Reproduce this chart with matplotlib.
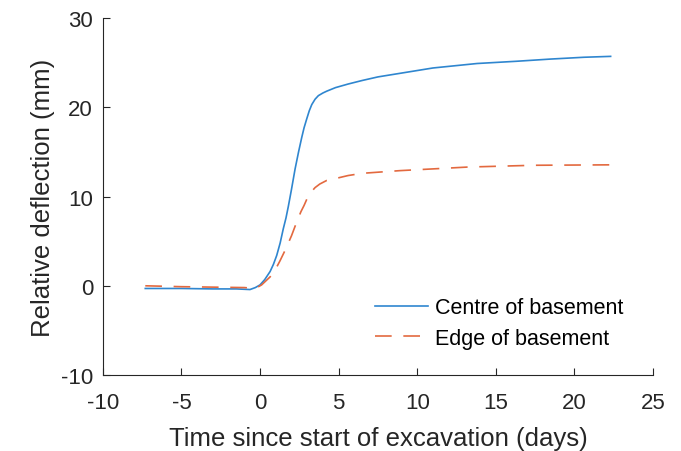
import numpy as np
import matplotlib
matplotlib.use("Agg")
import matplotlib.pyplot as plt

plt.rcParams['font.family'] = ['Liberation Sans', 'DejaVu Sans']
plt.rcParams['axes.unicode_minus'] = False

# Centre of basement
centre_t = [-7.3, -5, -3, -1.5, -0.64, -0.3, 0.0, 0.3, 0.64, 0.85, 1.06, 1.28, 1.48, 1.65, 1.8, 2.0,
            2.23, 2.45, 2.65, 2.8, 2.97, 3.13, 3.29, 3.5, 3.71, 4.0, 4.24, 4.8, 5.6, 6.5, 7.5, 8.9,
            11.0, 13.8, 16.3, 18.5, 20.6, 22.3]
centre_d = [-0.3, -0.3, -0.35, -0.35, -0.42, -0.2, 0.1, 0.7, 1.6, 2.4, 3.4, 4.8, 6.4, 7.6, 8.9, 10.8,
            13.1, 15.0, 16.6, 17.7, 18.7, 19.6, 20.3, 20.9, 21.3, 21.6, 21.8, 22.2, 22.6, 23.0, 23.4, 23.8,
            24.4, 24.9, 25.15, 25.4, 25.6, 25.7]

# Edge of basement
edge_t = [-7.3, -5, -3, -1, -0.3, 0.1, 0.64, 1.0, 1.27, 1.6, 2.0, 2.3, 2.6, 2.8, 3.0, 3.2, 3.5, 3.8,
          4.24, 5.0, 5.6, 6.5, 8.9, 13.2, 17.4, 22.3]
edge_d = [0.0, -0.1, -0.15, -0.2, -0.3, 0.1, 1.0, 1.9, 2.8, 4.0, 5.6, 7.0, 8.3, 9.0, 9.8, 10.4, 11.0, 11.4,
          11.8, 12.1, 12.35, 12.6, 12.9, 13.3, 13.5, 13.55]

x_ticks = [-10, -5, 0, 5, 10, 15, 20, 25]
y_ticks = [-10, 0, 10, 20, 30]

fig = plt.figure(figsize=(6.81, 4.52), dpi=100)
ax = fig.add_axes([0.151, 0.168, 0.808, 0.790])

ax.plot(centre_t, centre_d, color='#2f86cf', lw=1.2, label='Centre of basement',
        solid_joinstyle='round')
ax.plot(edge_t, edge_d, color='#e3693f', lw=1.2, dashes=(10, 7), label='Edge of basement')

ax.set_xlim(-10, 25)
ax.set_ylim(-10, 30)
ax.set_xticks(x_ticks)
ax.set_yticks(y_ticks)
ax.spines['top'].set_visible(False)
ax.spines['right'].set_visible(False)
for s in ['left', 'bottom']:
    ax.spines[s].set_linewidth(0.8)
    ax.spines[s].set_color('#262626')
ax.tick_params(direction='in', length=5, width=0.8, labelsize=16, colors='#262626')
ax.tick_params(axis='x', pad=12.5)
ax.tick_params(axis='y', pad=7)

ax.set_xlabel('Time since start of excavation (days)', fontsize=18.5, color='#262626', labelpad=9)
ax.set_ylabel('Relative deflection (mm)', fontsize=18.5, color='#262626', labelpad=4.5)

ax.legend(loc='upper left', bbox_to_anchor=(0.495, 0.218), frameon=False, fontsize=15.5,
          handlelength=2.46, handletextpad=0.33, labelspacing=0.45, borderpad=0, borderaxespad=0)

fig.savefig('out.png', dpi=100)
